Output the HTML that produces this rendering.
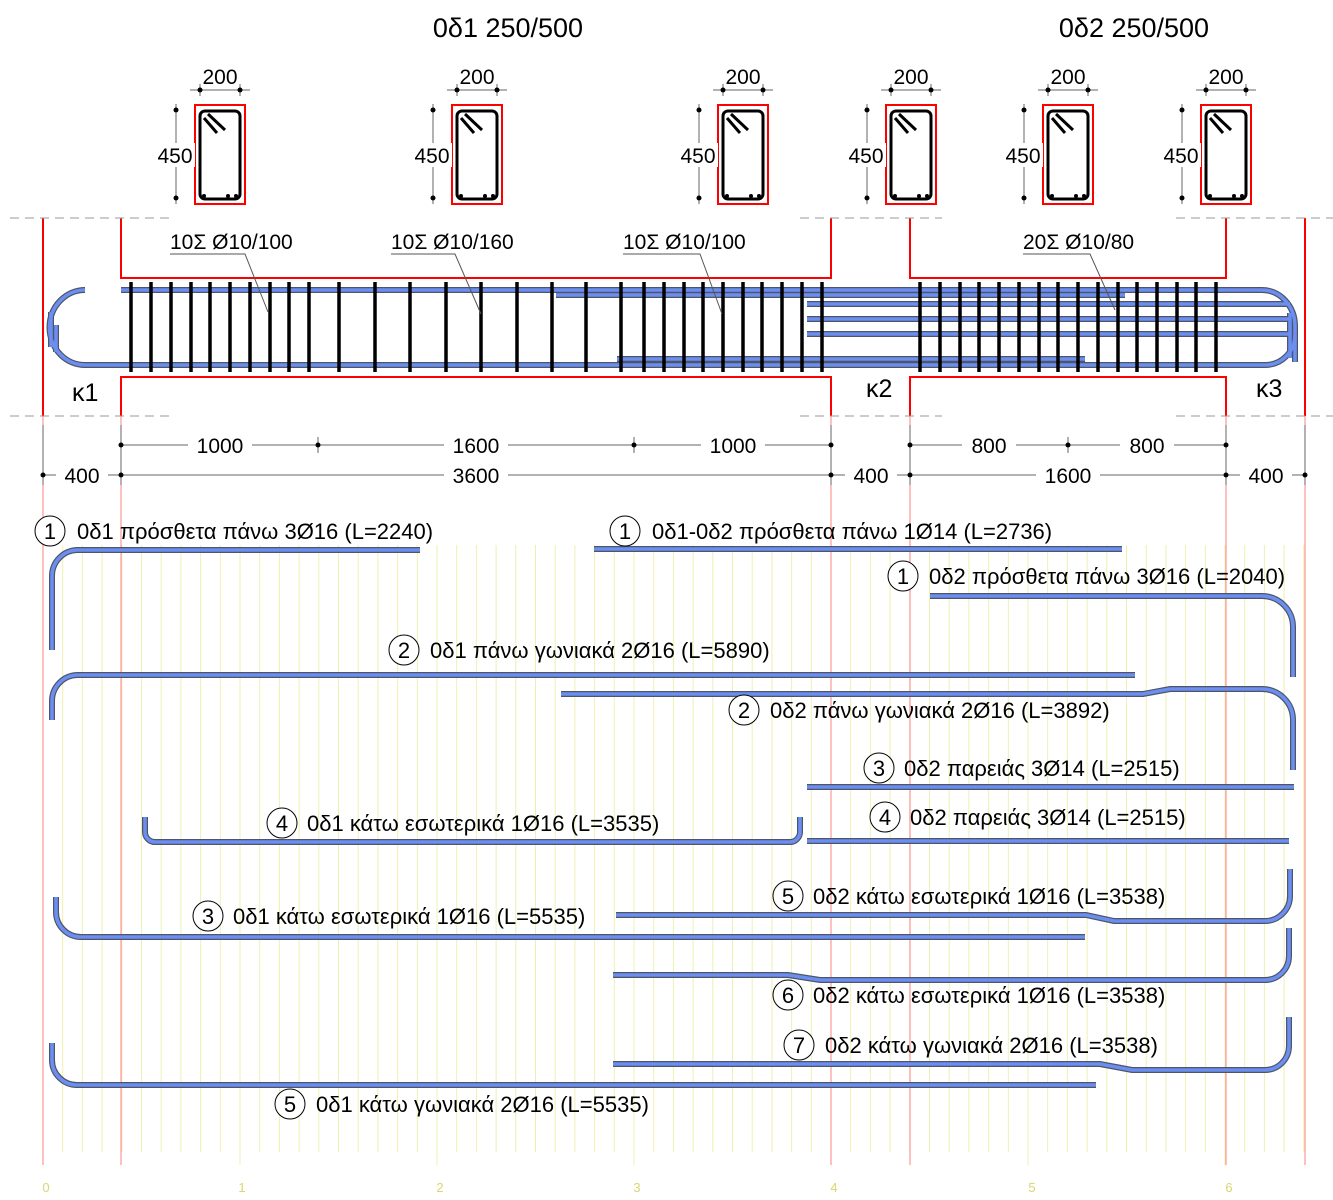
<!DOCTYPE html>
<html><head><meta charset="utf-8">
<style>
html,body{margin:0;padding:0;background:#fff;}
svg{display:block;font-family:"Liberation Sans","DejaVu Sans",sans-serif;}
</style></head>
<body>
<svg id="s" width="1333" height="1200" viewBox="0 0 1333 1200" xmlns="http://www.w3.org/2000/svg">
<g id="grid"></g>
<g id="stir"></g>
<g id="bars"></g>
<g id="sec"></g>
<text x="508" y="37" font-size="27" text-anchor="middle">0δ1 250/500</text>
<text x="1134" y="37" font-size="27" text-anchor="middle">0δ2 250/500</text>
<g stroke="#f00" stroke-width="2" fill="none">
<line x1="43" y1="218" x2="43" y2="416"/><line x1="1305" y1="218" x2="1305" y2="416"/>
<polyline points="121,218 121,278 831,278 831,218"/>
<polyline points="121,416 121,377 831,377 831,416"/>
<polyline points="910,218 910,278 1226,278 1226,218"/>
<polyline points="910,416 910,377 1226,377 1226,416"/>
</g>
<g stroke="#999" stroke-width="1" stroke-dasharray="9,6">
<line x1="10" y1="218" x2="172" y2="218"/><line x1="800" y1="218" x2="942" y2="218"/><line x1="1176" y1="218" x2="1333" y2="218"/>
<line x1="10" y1="416" x2="172" y2="416"/><line x1="800" y1="416" x2="942" y2="416"/><line x1="1176" y1="416" x2="1333" y2="416"/>
</g>
<text x="72" y="401" font-size="25">κ1</text>
<text x="866" y="397" font-size="25">κ2</text>
<text x="1256" y="397" font-size="25">κ3</text>
<g font-size="21">
<text x="170" y="249">10Σ Ø10/100</text>
<text x="391" y="249">10Σ Ø10/160</text>
<text x="623" y="249">10Σ Ø10/100</text>
<text x="1023" y="249">20Σ Ø10/80</text>
</g>
<g stroke="#555" stroke-width="1" fill="none">
<polyline points="170,254 245,254 268,312"/>
<polyline points="391,254 455,254 481,314"/>
<polyline points="623,254 700,254 722,314"/>
<polyline points="1023,254 1090,254 1115,310"/>
</g>
<g stroke="#666" stroke-width="1">
<line x1="121" y1="445" x2="831" y2="445"/>
<line x1="910" y1="445" x2="1226" y2="445"/>
<line x1="43" y1="475" x2="1305" y2="475"/>
<line x1="43" y1="425" x2="43" y2="485"/><line x1="121" y1="425" x2="121" y2="485"/>
<line x1="831" y1="425" x2="831" y2="485"/><line x1="910" y1="425" x2="910" y2="485"/>
<line x1="1226" y1="425" x2="1226" y2="485"/><line x1="1305" y1="425" x2="1305" y2="485"/>
<line x1="318" y1="437" x2="318" y2="453"/><line x1="634" y1="437" x2="634" y2="453"/><line x1="1068" y1="437" x2="1068" y2="453"/>
</g>
<g fill="#000">
<circle cx="121" cy="445" r="2.5"/><circle cx="318" cy="445" r="2.5"/><circle cx="634" cy="445" r="2.5"/><circle cx="831" cy="445" r="2.5"/>
<circle cx="910" cy="445" r="2.5"/><circle cx="1068" cy="445" r="2.5"/><circle cx="1226" cy="445" r="2.5"/>
<circle cx="43" cy="475" r="2.5"/><circle cx="121" cy="475" r="2.5"/><circle cx="831" cy="475" r="2.5"/><circle cx="910" cy="475" r="2.5"/><circle cx="1226" cy="475" r="2.5"/><circle cx="1305" cy="475" r="2.5"/>
</g>
<g font-size="21" text-anchor="middle">
<g fill="#fff"><rect x="188" y="434" width="64" height="22"/><rect x="444" y="434" width="64" height="22"/><rect x="701" y="434" width="64" height="22"/><rect x="962" y="434" width="54" height="22"/><rect x="1120" y="434" width="54" height="22"/>
<rect x="56" y="464" width="52" height="22"/><rect x="444" y="464" width="64" height="22"/><rect x="845" y="464" width="52" height="22"/><rect x="1036" y="464" width="64" height="22"/><rect x="1240" y="464" width="52" height="22"/></g>
<text x="220" y="453">1000</text><text x="476" y="453">1600</text><text x="733" y="453">1000</text><text x="989" y="453">800</text><text x="1147" y="453">800</text>
<text x="82" y="483">400</text><text x="476" y="483">3600</text><text x="871" y="483">400</text><text x="1068" y="483">1600</text><text x="1266" y="483">400</text>
</g>
<g font-size="13" fill="#d8d870" text-anchor="middle">
<text x="46" y="1192">0</text><text x="242" y="1192">1</text><text x="440" y="1192">2</text><text x="637" y="1192">3</text><text x="834" y="1192">4</text><text x="1032" y="1192">5</text><text x="1229" y="1192">6</text>
</g>
<g font-size="22">
<text x="77" y="539">0δ1 πρόσθετα πάνω 3Ø16 (L=2240)</text>
<text x="652" y="539">0δ1-0δ2 πρόσθετα πάνω 1Ø14 (L=2736)</text>
<text x="929" y="584">0δ2 πρόσθετα πάνω 3Ø16 (L=2040)</text>
<text x="430" y="658">0δ1 πάνω γωνιακά 2Ø16 (L=5890)</text>
<text x="770" y="718">0δ2 πάνω γωνιακά 2Ø16 (L=3892)</text>
<text x="904" y="776">0δ2 παρειάς 3Ø14 (L=2515)</text>
<text x="910" y="825">0δ2 παρειάς 3Ø14 (L=2515)</text>
<text x="307" y="831">0δ1 κάτω εσωτερικά 1Ø16 (L=3535)</text>
<text x="813" y="904">0δ2 κάτω εσωτερικά 1Ø16 (L=3538)</text>
<text x="233" y="924">0δ1 κάτω εσωτερικά 1Ø16 (L=5535)</text>
<text x="813" y="1003">0δ2 κάτω εσωτερικά 1Ø16 (L=3538)</text>
<text x="825" y="1053">0δ2 κάτω γωνιακά 2Ø16 (L=3538)</text>
<text x="316" y="1112">0δ1 κάτω γωνιακά 2Ø16 (L=5535)</text>
</g>
<g fill="#fff" stroke="#000" stroke-width="1">
<circle cx="50" cy="531" r="15"/><circle cx="625" cy="531" r="15"/><circle cx="903" cy="576" r="15"/>
<circle cx="404" cy="650" r="15"/><circle cx="744" cy="710" r="15"/><circle cx="879" cy="768" r="15"/>
<circle cx="885" cy="817" r="15"/><circle cx="282" cy="823" r="15"/><circle cx="788" cy="896" r="15"/>
<circle cx="208" cy="916" r="15"/><circle cx="788" cy="995" r="15"/><circle cx="799" cy="1045" r="15"/><circle cx="290" cy="1104" r="15"/>
</g>
<g font-size="22" text-anchor="middle">
<text x="50" y="539">1</text><text x="625" y="539">1</text><text x="903" y="584">1</text>
<text x="404" y="658">2</text><text x="744" y="718">2</text><text x="879" y="776">3</text>
<text x="885" y="825">4</text><text x="282" y="831">4</text><text x="788" y="904">5</text>
<text x="208" y="924">3</text><text x="788" y="1003">6</text><text x="799" y="1053">7</text><text x="290" y="1112">5</text>
</g>
<g id="secdim" font-size="21" text-anchor="middle"></g>
</svg>
<script>
const NS="http://www.w3.org/2000/svg";
function el(p,tag,a){const e=document.createElementNS(NS,tag);for(const k in a)e.setAttribute(k,a[k]);p.appendChild(e);return e;}
const grid=document.getElementById('grid');
for(let i=0;i<=64;i++){const x=43+i*19.7;el(grid,'line',{x1:x,y1:545,x2:x,y2:(i%10==0)?1165:1152,stroke:'#eef0b0','stroke-width':1});}
[43,121,831,910,1226,1305].forEach(x=>el(grid,'line',{x1:x,y1:416,x2:x,y2:1165,stroke:'#ff8080','stroke-width':1}));
const st=document.getElementById('stir');
const xs=[131,151,171,191,210,230,250,270,289,309,339,375,410,446,481,517,552,586,621,644,664,684,703,723,743,762,782,802,822,920,940,960,979,999,1019,1039,1058,1078,1098,1118,1137,1157,1177,1196,1216];
const bars=document.getElementById('bars');
const paths=[
"M121 290 H1262 A33 36 0 0 1 1295 326 V362",
"M85 290 A35 37 0 0 0 85 365 H1265 A30 30 0 0 0 1295 335",
"M1290 313 V358",
"M51 312 V347","M56 325 V352",
"M556 295 H1125",
"M807 304 H1290","M807 319 H1290","M807 334 H1290",
"M617 359 H1085",
"M420 550 H78 A26 26 0 0 0 52 576 V650",
"M594 549 H1122",
"M930 596 H1262 A31 31 0 0 1 1293 627 V677",
"M1135 675 H78 A26 26 0 0 0 52 701 V720",
"M561 694 H1143 L1170 689 H1262 A31 31 0 0 1 1293 720 V770",
"M807 787 H1294",
"M807 841 H1289",
"M145 817 V832 A10 10 0 0 0 155 842 H790 A10 10 0 0 0 800 832 V817",
"M616 915 H1086 L1114 921 H1265 A25 25 0 0 0 1290 896 V869",
"M56 897 V912 A25 25 0 0 0 81 937 H1085",
"M613 975 H788 L820 980 H1265 A24 24 0 0 0 1289 956 V928",
"M613 1064 H1100 L1132 1070 H1265 A24 24 0 0 0 1289 1046 V1017",
"M52 1043 V1060 A25 25 0 0 0 77 1085 H1096"
];
paths.forEach(d=>el(bars,'path',{d:d,fill:'none',stroke:'#4d5566','stroke-width':6}));
paths.forEach(d=>el(bars,'path',{d:d,fill:'none',stroke:'#6b8ef0','stroke-width':3.6}));
xs.forEach(x=>el(st,'line',{x1:x,y1:282,x2:x,y2:372,stroke:'#000','stroke-width':3.5}));
document.getElementById('s').insertBefore(bars,st);
const sec=document.getElementById('sec'),sd=document.getElementById('secdim');
[195,452,718,886,1043,1201].forEach(x=>{
 el(sec,'rect',{x:x,y:105,width:50,height:99,fill:'none',stroke:'#f00','stroke-width':2});
 el(sec,'rect',{x:x+5,y:111,width:40,height:88,rx:5,fill:'none',stroke:'#000','stroke-width':3});
 el(sec,'rect',{x:x+8,y:114,width:34,height:82,rx:3,fill:'none',stroke:'#fff','stroke-width':1});
 el(sec,'line',{x1:x+9,y1:118,x2:x+22,y2:133,stroke:'#000','stroke-width':3});
 el(sec,'line',{x1:x+13,y1:114,x2:x+30,y2:130,stroke:'#000','stroke-width':3});
 [x+9,x+41,x+33].forEach(cx=>{el(sec,'circle',{cx:cx,cy:196,r:2,fill:'#000'});});
 el(sec,'line',{x1:x-5,y1:90,x2:x+55,y2:90,stroke:'#666','stroke-width':1});
 el(sec,'line',{x1:x+5,y1:84,x2:x+5,y2:96,stroke:'#666','stroke-width':1});
 el(sec,'line',{x1:x+45,y1:84,x2:x+45,y2:96,stroke:'#666','stroke-width':1});
 el(sec,'circle',{cx:x+5,cy:90,r:2.5,fill:'#000'});el(sec,'circle',{cx:x+45,cy:90,r:2.5,fill:'#000'});
 const t=el(sd,'text',{x:x+25,y:84});t.textContent='200';
 const vx=x-19;
 el(sec,'line',{x1:vx,y1:104,x2:vx,y2:204,stroke:'#666','stroke-width':1});
 el(sec,'circle',{cx:vx,cy:110,r:2.5,fill:'#000'});el(sec,'circle',{cx:vx,cy:198,r:2.5,fill:'#000'});
 el(sec,'rect',{x:vx-19,y:143,width:38,height:24,fill:'#fff'});
 const t2=el(sd,'text',{x:vx-1,y:163});t2.textContent='450';
});
</script>
</body></html>
